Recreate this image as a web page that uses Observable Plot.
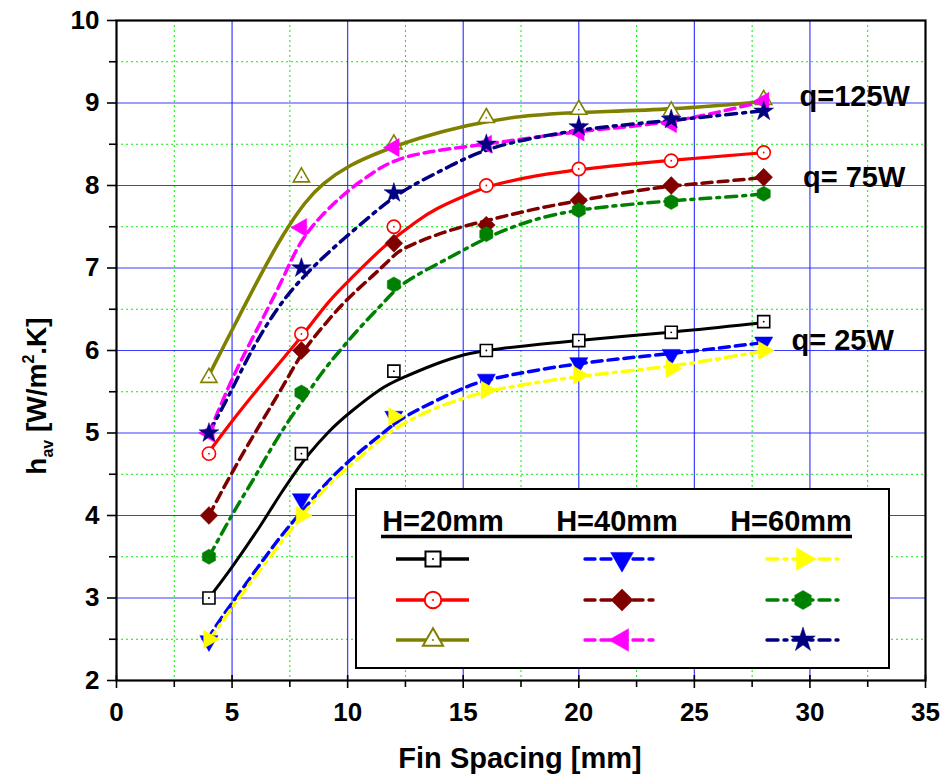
<!DOCTYPE html>
<html><head><meta charset="utf-8">
<script src="https://cdn.jsdelivr.net/npm/d3@7"></script>
<script src="https://cdn.jsdelivr.net/npm/@observablehq/plot@0.6"></script>
<style>
body{margin:0;background:#fff;}
#chart{width:940px;height:781px;}
</style></head><body><div id="chart"></div>
<script>
// ---------- data ----------
const finSpacing = [4, 8, 12, 16, 20, 24, 28];
// measured points (h_av, W/m2.K)
const h20q25  = [3.0, 4.75, 5.75, 6.0, 6.12, 6.22, 6.35];
const h20q75  = [4.75, 6.2, 7.5, 8.0, 8.2, 8.3, 8.4];
const h20q125 = [5.67, 8.1, 8.5, 8.82, 8.92, 8.9, 9.04];
const h40q25  = [2.48, 4.2, 5.2, 5.65, 5.85, 5.95, 6.1];
const h40q75  = [4.0, 6.0, 7.3, 7.52, 7.82, 8.0, 8.1];
const h40q125 = [5.0, 7.49, 8.46, 8.5, 8.65, 8.75, 9.02];
const h60q25  = [2.5, 4.0, 5.2, 5.52, 5.7, 5.78, 6.0];
const h60q75  = [3.5, 5.49, 6.8, 7.41, 7.7, 7.8, 7.9];
const h60q125 = [5.0, 7.0, 7.91, 8.5, 8.71, 8.8, 8.9];

// fitted curves as drawn in the reference: [fin spacing, h_av]
const fitH20q25 = [[4,3.0],[5.0,3.37],[6.3,3.9],[7.1,4.27],[7.8,4.55],[8.2,4.71],[9.2,5.03],[10.0,5.23],[11.5,5.56],[12.3,5.66],[13.8,5.84],[15.1,5.96],[16.1,6.01],[20.1,6.13],[24.1,6.22],[28.1,6.34]];
const fitH20q75 = [[4,4.77],[5.0,5.15],[6.3,5.6],[7.5,6.0],[8.1,6.2],[9.2,6.61],[10.1,6.86],[11.5,7.25],[12.3,7.42],[13.0,7.57],[13.8,7.72],[15.1,7.88],[16.1,8.0],[18.1,8.12],[20.1,8.2],[24.1,8.31],[28.1,8.4]];
const fitH20q125 = [[4,5.7],[5.2,6.36],[6.2,6.9],[7.2,7.41],[8.2,7.82],[8.9,8.02],[10.0,8.24],[11.5,8.42],[13.0,8.57],[15.1,8.73],[17.5,8.85],[20.1,8.89],[24.1,8.92],[28.1,9.02]];
const fitH40q25 = [[3.95,2.5],[4.45,2.73],[5.6,3.17],[6.9,3.68],[7.8,3.98],[9.2,4.44],[10.4,4.75],[11.5,4.99],[12.3,5.18],[13.8,5.39],[15.1,5.56],[16.1,5.66],[20.1,5.86],[24.1,5.96],[28.1,6.1]];
const fitH40q75 = [[4,4.0],[5.0,4.53],[6.3,5.15],[7.2,5.56],[8.06,6.0],[8.9,6.28],[9.9,6.61],[11.0,6.88],[12.0,7.15],[12.3,7.23],[14.2,7.45],[16.1,7.58],[18.1,7.72],[20.1,7.82],[22.5,7.94],[24.1,8.0],[27.5,8.08],[28,8.1]];
const fitH40q125 = [[4,5.0],[4.9,5.6],[5.6,6.0],[6.5,6.48],[7.34,6.95],[8.06,7.41],[9.8,7.9],[11.0,8.14],[12.33,8.38],[16.1,8.5],[20.1,8.67],[24.1,8.75],[28.1,9.03]];
const fitH60q25 = [[4,2.48],[5.0,2.89],[5.75,3.17],[7.2,3.7],[8.06,4.02],[9.3,4.42],[10.4,4.67],[11.5,4.95],[12.35,5.11],[13.8,5.31],[15.1,5.43],[16.1,5.52],[20.1,5.7],[24.1,5.8],[28.1,6.0]];
const fitH60q75 = [[4,3.5],[5.17,4.1],[5.9,4.42],[6.47,4.71],[7.34,5.11],[8.06,5.39],[8.93,5.76],[9.8,6.04],[10.52,6.28],[11.53,6.57],[12.35,6.83],[14.2,7.09],[16.1,7.39],[18.1,7.6],[20.1,7.72],[24.1,7.82],[27.5,7.88],[28,7.9]];
const fitH60q125 = [[4,5.0],[4.9,5.47],[5.75,5.96],[6.76,6.44],[7.77,6.81],[9.22,7.21],[11.1,7.66],[12.33,7.94],[14.2,8.2],[16.1,8.48],[20.1,8.69],[24.1,8.79],[28.1,8.91]];

const xTicks = [0, 5, 10, 15, 20, 25, 30, 35];
const xMinor = [2.5, 7.5, 12.5, 17.5, 22.5, 27.5, 32.5];
const yTicks = [2, 3, 4, 5, 6, 7, 8, 9, 10];
const yMinor = [2.5, 3.5, 4.5, 5.5, 6.5, 7.5, 8.5, 9.5];
const headers = ["H=20mm", "H=40mm", "H=60mm"];
const qLabels = ["q=125W", "q= 75W", "q= 25W"];

// ---------- custom symbols ----------
function triSymbol(angleDeg) {
  return {draw(ctx, size) {
    const R = Math.sqrt(size / Math.PI);
    for (let i = 0; i < 3; i++) {
      const a = (angleDeg + i * 120) * Math.PI / 180;
      const px = R * Math.cos(a), py = R * Math.sin(a);
      if (i === 0) ctx.moveTo(px, py); else ctx.lineTo(px, py);
    }
    ctx.closePath();
  }};
}
const triDown = triSymbol(90), triRight = triSymbol(0), triLeft = triSymbol(180);

const DASH = "10,6", DASHDOT = "11,6,3,6";
const styles = [
  {key:"h20q25", pts:h20q25, fit:fitH20q25, color:"#000000", dash:null, symbol:"square", r:6.8, open:true, w:3},
  {key:"h20q75", pts:h20q75, fit:fitH20q75, color:"#ff0000", dash:null, symbol:"circle", r:6.6, open:true, w:3.2},
  {key:"h20q125", pts:h20q125, fit:fitH20q125, color:"#808000", dash:null, symbol:"triangle", r:6.0, open:true, w:3.6},
  {key:"h40q25", pts:h40q25, fit:fitH40q25, color:"#0000ff", dash:DASH, symbol:triDown, r:10.5, open:false, w:3.5},
  {key:"h40q75", pts:h40q75, fit:fitH40q75, color:"#800000", dash:DASH, symbol:"diamond2", r:8.0, open:false, w:3.5},
  {key:"h40q125", pts:h40q125, fit:fitH40q125, color:"#ff00ff", dash:DASH, symbol:triLeft, r:10.5, open:false, w:3.5},
  {key:"h60q25", pts:h60q25, fit:fitH60q25, color:"#ffff00", dash:DASHDOT, symbol:triRight, r:10.5, open:false, w:3.5},
  {key:"h60q75", pts:h60q75, fit:fitH60q75, color:"#008000", dash:DASHDOT, symbol:"hexagon", r:6.6, open:false, w:3.5},
  {key:"h60q125", pts:h60q125, fit:fitH60q125, color:"#000080", dash:DASHDOT, symbol:"star", r:6.2, open:false, w:3.5}
];

const marks = [
  Plot.gridX(xMinor, {stroke:"#00ee00", strokeOpacity:1, strokeWidth:1, strokeDasharray:"2,3"}),
  Plot.gridY(yMinor, {stroke:"#00ee00", strokeOpacity:1, strokeWidth:1, strokeDasharray:"2,3"}),
  Plot.gridX(xTicks.slice(1, -1), {stroke:"#1a1aff", strokeOpacity:0.85, strokeWidth:1.2}),
  Plot.gridY(yTicks.slice(1, -1), {stroke:"#1a1aff", strokeOpacity:0.85, strokeWidth:1.2}),
];
for (const s of styles) {
  marks.push(Plot.line(s.fit, {x: d => d[0], y: d => d[1], curve: "basis",
    stroke: s.color, strokeWidth: s.w, strokeDasharray: s.dash ?? undefined, strokeLinecap: s.dash ? "round" : "butt"}));
}
for (const s of styles) {
  const data = finSpacing.map((x, i) => ({x, y: s.pts[i]}));
  marks.push(Plot.dot(data, {x:"x", y:"y", symbol: s.symbol, r: s.r,
    fill: s.open ? "white" : s.color, stroke: s.color, strokeWidth: s.open ? 1.6 : 0.5}));
  if (s.open) marks.push(Plot.dot(data, {x:"x", y:"y", r:0.9, fill:s.color, stroke:null}));
}
marks.push(
  Plot.text([qLabels[0]], {x: 29.55, y: 9.08, text: d => d, textAnchor:"start", fontSize: 29, fontWeight:"bold", fill:"black"}),
  Plot.text([qLabels[1]], {x: 29.7, y: 8.1, text: d => d, textAnchor:"start", fontSize: 29, fontWeight:"bold", fill:"black"}),
  Plot.text([qLabels[2]], {x: 29.2, y: 6.12, text: d => d, textAnchor:"start", fontSize: 29, fontWeight:"bold", fill:"black"}),
  Plot.axisX(xTicks, {tickSize: 8, tickPadding: 14, fontSize: 26, fontWeight:"bold", label: null, tickFormat: d => String(d), stroke:"black", strokeWidth:1.6}),
  Plot.axisX(xTicks, {tickSize: -5, tickFormat: () => "", label: null, stroke:"black", strokeWidth:1.6}),
  Plot.axisX(xMinor, {tickSize: 7, tickFormat: () => "", label: null, stroke:"black", strokeWidth:1.6}),
  Plot.axisY(yTicks, {tickSize: 9, tickPadding: 8, fontSize: 26, fontWeight:"bold", label: null, tickFormat: d => String(d), stroke:"black", strokeWidth:1.6}),
  Plot.axisY(yMinor, {tickSize: 7, tickFormat: () => "", label: null, stroke:"black", strokeWidth:1.6}),
  Plot.frame({stroke:"black", strokeWidth: 2.2})
);

const plot = Plot.plot({
  width: 940, height: 781,
  marginLeft: 116, marginRight: 15, marginTop: 20, marginBottom: 101,
  x: {domain: [0, 35]},
  y: {domain: [2, 10]},
  style: {fontFamily: "'Liberation Sans', Arial, sans-serif", background: "white", color: "black", overflow: "visible"},
  marks
});
document.getElementById("chart").appendChild(plot);

// ---------- titles & legend drawn into the same SVG ----------
const svg = d3.select(plot);
const font = "'Liberation Sans', Arial, sans-serif";

svg.append("text").attr("x", 520).attr("y", 768)
  .attr("text-anchor", "middle").attr("font-family", font).attr("font-weight", "bold").attr("font-size", 29)
  .text("Fin Spacing [mm]");

const yt = svg.append("text").attr("transform", `translate(46, 396) rotate(-90)`)
  .attr("text-anchor", "middle").attr("font-family", font).attr("font-weight", "bold").attr("font-size", 28);
yt.append("tspan").text("h");
yt.append("tspan").attr("font-size", 16).attr("dy", 7).text("av");
yt.append("tspan").attr("dy", -7).text(" [W/m");
yt.append("tspan").attr("font-size", 16).attr("dy", -12).text("2");
yt.append("tspan").attr("dy", 12).text(".K]");

// legend box
const lg = svg.append("g");
lg.append("rect").attr("x", 356).attr("y", 489).attr("width", 533).attr("height", 179)
  .attr("fill", "white").attr("stroke", "black").attr("stroke-width", 2);
const colCenters = [443, 617, 791];
headers.forEach((h, i) => {
  lg.append("text").attr("x", colCenters[i]).attr("y", 531).attr("text-anchor", "middle")
    .attr("font-family", font).attr("font-weight", "bold").attr("font-size", 29).text(h);
});
lg.append("line").attr("x1", 381).attr("x2", 852).attr("y1", 536.5).attr("y2", 536.5)
  .attr("stroke", "black").attr("stroke-width", 3.5);
const lineSpans = [[396, 469, 433], [585, 653, 622], [767, 838, 803]];
const rowsY = [559, 600, 640];
const order = [[0, 3, 6], [1, 4, 7], [2, 5, 8]]; // rows: q=25, 75, 125 ; cols: H=20, 40, 60
const plotSymbols = {square: d3.symbolSquare, circle: d3.symbolCircle, triangle: d3.symbolTriangle,
  diamond2: d3.symbolDiamond2, star: d3.symbolStar};
function hexagon() {
  return {draw(ctx, size) {
    const rx = Math.sqrt(size / Math.PI), ry = rx * Math.sqrt(4 / 3), hy = ry / 2;
    ctx.moveTo(0, ry); ctx.lineTo(rx, hy); ctx.lineTo(rx, -hy); ctx.lineTo(0, -ry);
    ctx.lineTo(-rx, -hy); ctx.lineTo(-rx, hy); ctx.closePath();
  }};
}
order.forEach((row, ri) => {
  row.forEach((si, ci) => {
    const s = styles[si];
    const [x1, x2, mx] = lineSpans[ci];
    const yy = rowsY[ri];
    lg.append("line").attr("x1", x1).attr("x2", x2).attr("y1", yy).attr("y2", yy)
      .attr("stroke", s.color).attr("stroke-width", 3.4).attr("stroke-dasharray", s.dash)
      .attr("stroke-linecap", s.dash ? "round" : "butt");
    const rr = s.r * 1.25;
    const type = typeof s.symbol === "string" ? (s.symbol === "hexagon" ? hexagon() : plotSymbols[s.symbol]) : s.symbol;
    lg.append("path").attr("transform", `translate(${mx},${yy})`)
      .attr("d", d3.symbol(type, Math.PI * rr * rr)())
      .attr("fill", s.open ? "white" : s.color).attr("stroke", s.color).attr("stroke-width", s.open ? 2 : 0.5);
    if (s.open) lg.append("circle").attr("cx", mx).attr("cy", yy).attr("r", 1).attr("fill", s.color);
  });
});
</script></body></html>
